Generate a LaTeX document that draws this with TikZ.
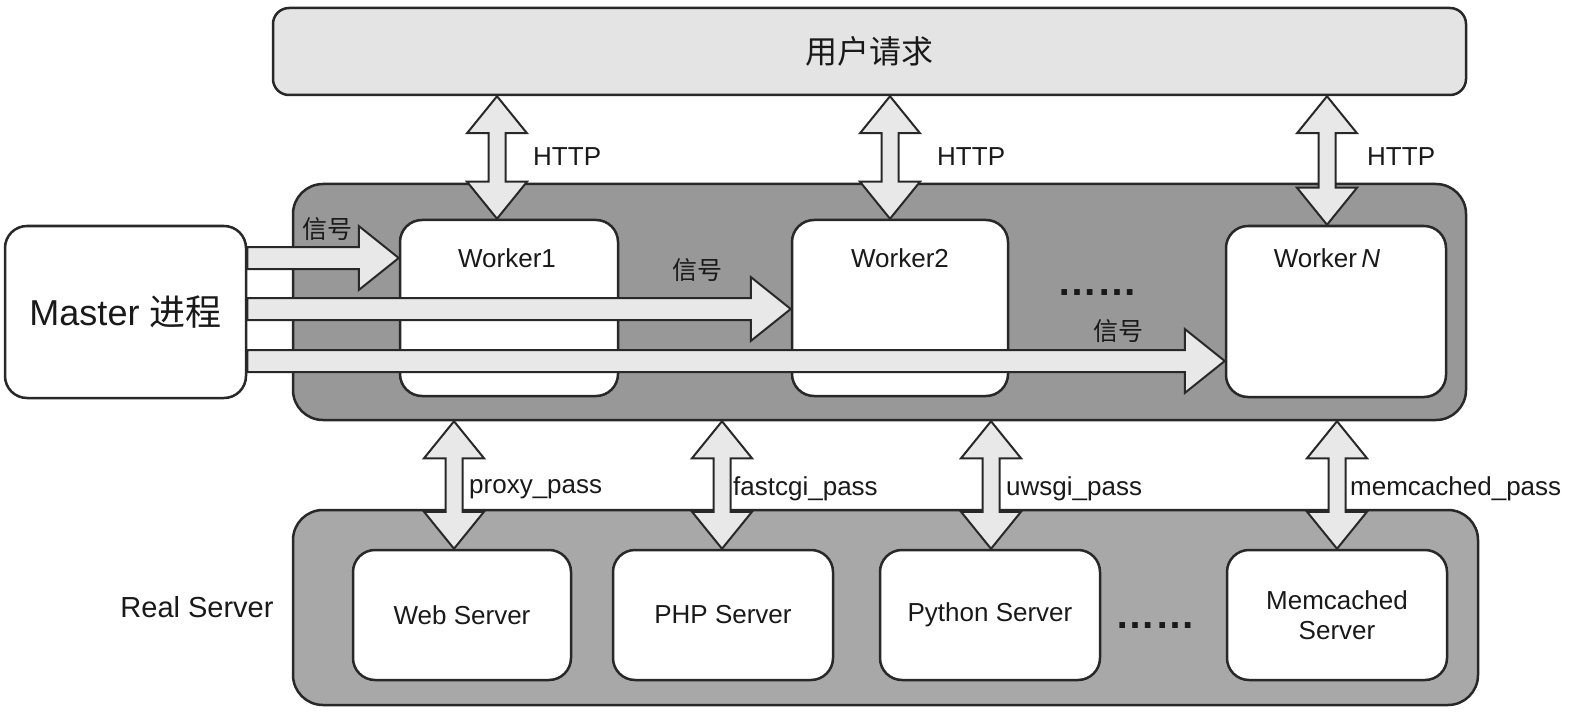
\documentclass[tikz,border=0pt]{standalone}
\usepackage{fontspec}
\setmainfont{Liberation Sans}
\newfontfamily\cjk{Noto Sans CJK SC}
\usetikzlibrary{calc}
\definecolor{linec}{RGB}{40,40,40}
\definecolor{topfill}{RGB}{228,228,228}
\definecolor{midfill}{RGB}{152,152,152}
\definecolor{botfill}{RGB}{168,168,168}
\definecolor{arrfill}{RGB}{232,232,232}
\definecolor{txt}{RGB}{25,25,25}
\tikzset{
  box/.style={draw=linec, line width=2.5pt, fill=white, rounded corners=22pt, inner sep=0pt, align=center, font=\fontsize{26}{30}\selectfont, text=txt},
  panel/.style={draw=linec, line width=2.5pt, rounded corners=30pt, inner sep=0pt},
  fat/.style={draw=linec, line width=2pt, fill=arrfill, line join=miter},
  lbl/.style={inner sep=0pt, font=\fontsize{26}{30}\selectfont, text=txt},
  dotsty/.style={inner sep=0pt, font=\fontsize{40}{44}\selectfont\bfseries, text=txt},
}
% vertical double arrow: #1 top point, #2 bottom point (same x taken from #1)
\newcommand\vdarr[2]{%
  \path[fat] let \p1=(#1), \p2=(#2) in
   (\x1,\y1) -- (\x1+30pt,\y1-37pt) -- (\x1+8.5pt,\y1-37pt) -- (\x1+8.5pt,\y2+37pt)
   -- (\x1+30pt,\y2+37pt) -- (\x1,\y2) -- (\x1-30pt,\y2+37pt) -- (\x1-8.5pt,\y2+37pt)
   -- (\x1-8.5pt,\y1-37pt) -- (\x1-30pt,\y1-37pt) -- cycle;}
% horizontal fat arrow: #1 tail, #2 tip
\newcommand\hfarr[2]{%
  \path[fat] let \p1=(#1), \p2=(#2) in
   (\x1,\y1+11pt) -- (\x2-40pt,\y1+11pt) -- (\x2-40pt,\y1+32pt) -- (\x2,\y1)
   -- (\x2-40pt,\y1-32pt) -- (\x2-40pt,\y1-11pt) -- (\x1,\y1-11pt) -- cycle;}
\begin{document}
\begin{tikzpicture}[x=1pt,y=-1pt]
\useasboundingbox[fill=white] (0,0) rectangle (1571,714);

% panels
\node[panel, fill=topfill, rounded corners=16pt, minimum width=1193pt, minimum height=87pt,
      font=\fontsize{32}{36}\selectfont, text=txt] (top) at (869.5,51.5) {\cjk 用户请求};
\node[panel, fill=midfill, minimum width=1173pt, minimum height=236pt] (mid) at (879.5,302) {};
\node[panel, fill=botfill, minimum width=1185pt, minimum height=195pt] (bot) at (885.5,607.5) {};

% master and workers
\node[box, minimum width=241pt, minimum height=172pt, font=\fontsize{36}{40}\selectfont] (M) at (125.5,312) {Master {\cjk 进程}};
\node[box, minimum width=218pt, minimum height=176pt] (W1) at (509,308) {};
\node[box, minimum width=216pt, minimum height=176pt] (W2) at (900,308) {};
\node[box, minimum width=220pt, minimum height=171pt] (WN) at (1336,311.5) {};
\node[lbl] (W1t) at (507,258) {Worker1};
\node[lbl] (W2t) at (900,258) {Worker2};
\node[lbl] (WNt) at (1327,258) {Worker\,\textit{N}};
\node[dotsty] (dots1) at (1097,293) {……};

% signal arrows
\coordinate (s1) at ($(M.east)+(0,-54)$);
\coordinate (s2) at ($(M.east)+(0,-3)$);
\coordinate (s3) at ($(M.east)+(0,49)$);
\hfarr{s1}{s1 -| W1.west}
\hfarr{s2}{s2 -| W2.west}
\hfarr{s3}{s3 -| WN.west}
\node[lbl, font=\fontsize{25}{28}\selectfont] (sig1) at (327,229) {\cjk 信号};
\node[lbl, font=\fontsize{25}{28}\selectfont] (sig2) at (697,270) {\cjk 信号};
\node[lbl, font=\fontsize{25}{28}\selectfont] (sig3) at (1118,331) {\cjk 信号};

% HTTP arrows
\coordinate (h1) at ($(W1.north)+(-12,0)$);
\coordinate (h2) at ($(W2.north)+(-10,0)$);
\coordinate (h3) at ($(WN.north)+(-9,0)$);
\vdarr{top.south -| h1}{h1}
\vdarr{top.south -| h2}{h2}
\vdarr{top.south -| h3}{h3}
\node[lbl, anchor=west] (http1) at (533,157) {HTTP};
\node[lbl, anchor=west] (http2) at (937,157) {HTTP};
\node[lbl, anchor=west] (http3) at (1367,157) {HTTP};

% servers
\node[box, minimum width=218pt, minimum height=130pt] (web) at (462,615) {Web Server};
\node[box, minimum width=220pt, minimum height=130pt] (php) at (723,615) {PHP Server};
\node[box, minimum width=220pt, minimum height=130pt] (py) at (990,615) {Python Server};
\node[box, minimum width=220pt, minimum height=130pt] (mem) at (1337,615) {Memcached\\Server};
\node[dotsty] (dots2) at (1155,626) {……};
\node[lbl, font=\fontsize{29}{32}\selectfont] (real) at (197,607) {Real Server};

% backend arrows
\coordinate (b1) at ($(web.north)+(-8,0)$);
\coordinate (b2) at ($(php.north)+(-1,0)$);
\coordinate (b3) at ($(py.north)+(1,0)$);
\coordinate (b4) at ($(mem.north)+(0,0)$);
\vdarr{mid.south -| b1}{b1}
\vdarr{mid.south -| b2}{b2}
\vdarr{mid.south -| b3}{b3}
\vdarr{mid.south -| b4}{b4}
\node[lbl, anchor=west] (p1) at (469,489) {proxy\_pass};
\node[lbl, anchor=west] (p2) at (733,489) {fastcgi\_pass};
\node[lbl, anchor=west] (p3) at (1006,489) {uwsgi\_pass};
\node[lbl, anchor=west] (p4) at (1350,489) {memcached\_pass};
\end{tikzpicture}
\end{document}
